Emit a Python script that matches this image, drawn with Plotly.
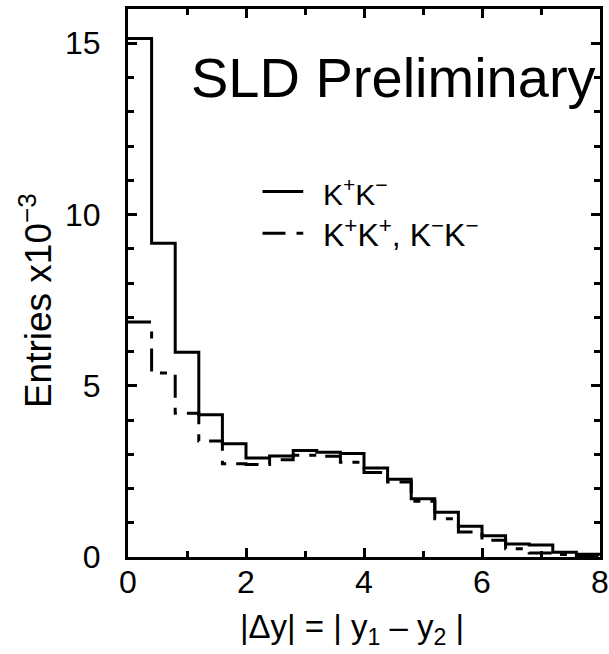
import plotly.graph_objects as go

bin_edges = [round(0.4 * i, 1) for i in range(21)]
kpkm = [15.14, 9.16, 5.98, 4.15, 3.31, 2.89, 2.95, 3.11, 3.06, 3.02,
        2.60, 2.27, 1.70, 1.31, 0.90, 0.62, 0.38, 0.35, 0.14, 0.08]
same_sign = [6.86, 5.37, 4.20, 3.39, 2.72, 2.70, 2.84, 2.97, 2.94, 2.77,
             2.47, 2.19, 1.63, 1.12, 0.73, 0.49, 0.24, 0.12, 0.07, 0.03]
x_ticks = [0, 2, 4, 6, 8]
y_ticks = [0, 5, 10, 15]

FONT = "Liberation Sans, Arial, sans-serif"
DASH = "23px,10px,7px,10px"

fig = go.Figure()
fig.add_trace(go.Scatter(x=bin_edges, y=kpkm + [kpkm[-1]], mode="lines",
                         line=dict(shape="hv", color="black", width=3),
                         showlegend=False, hoverinfo="skip"))
fig.add_trace(go.Scatter(x=bin_edges, y=same_sign + [same_sign[-1]], mode="lines",
                         line=dict(shape="hv", color="black", width=3, dash=DASH),
                         showlegend=False, hoverinfo="skip"))

# legend (manual)
fig.add_shape(type="line", xref="x", yref="y", x0=2.28, x1=2.97, y0=10.67, y1=10.67,
              line=dict(color="black", width=3))
fig.add_shape(type="line", xref="x", yref="y", x0=2.28, x1=2.97, y0=9.45, y1=9.45,
              line=dict(color="black", width=3, dash="23px,11px,7px,20px"))
fig.add_annotation(x=3.27, y=10.67, xref="x", yref="y", xanchor="left", yanchor="middle",
                   text="K<sup>+</sup>K<sup>−</sup>", showarrow=False,
                   font=dict(family=FONT, size=30, color="black"))
fig.add_annotation(x=3.27, y=9.45, xref="x", yref="y", xanchor="left", yanchor="middle",
                   text="K<sup>+</sup>K<sup>+</sup>, K<sup>−</sup>K<sup>−</sup>", showarrow=False,
                   font=dict(family=FONT, size=32, color="black"))
fig.add_annotation(x=7.97, y=14.0, xref="x", yref="y", xanchor="right", yanchor="middle",
                   text="SLD Preliminary", showarrow=False,
                   font=dict(family=FONT, size=56, color="black"))

# axis titles
fig.add_annotation(x=0.4746, y=0, xref="paper", yref="paper", xanchor="center", yanchor="middle",
                   yshift=-72, text="|Δy| = | y<sub>1</sub> – y<sub>2</sub> |", showarrow=False,
                   font=dict(family=FONT, size=33, color="black"))
fig.add_annotation(x=0, y=0.467, xref="paper", yref="paper", xanchor="center", yanchor="middle",
                   xshift=-92, textangle=-90, text="Entries x10<sup>−3</sup>", showarrow=False,
                   font=dict(family=FONT, size=37, color="black"))

axis_common = dict(showline=True, linewidth=3, linecolor="black", mirror="allticks",
                   ticks="inside", ticklen=9, tickwidth=3, tickcolor="black",
                   showgrid=False, zeroline=False, automargin=False,
                   tickfont=dict(family=FONT, size=32, color="black"))

fig.update_xaxes(range=[0, 8], tickvals=x_ticks, ticktext=[str(v) for v in x_ticks],
                 minor=dict(dtick=1, ticks="inside", ticklen=6, tickwidth=3, tickcolor="black"),
                 ticklabelstandoff=-5, ticklabeloverflow="allow",
                 **axis_common)
fig.update_yaxes(range=[0, 16], tickvals=y_ticks, ticktext=[str(v) for v in y_ticks],
                 minor=dict(dtick=1, ticks="inside", ticklen=6, tickwidth=3, tickcolor="black"),
                 ticklabelstandoff=18,
                 **axis_common)

fig.update_layout(width=609, height=654, margin=dict(l=128, r=9, t=9, b=97),
                  plot_bgcolor="white", paper_bgcolor="white",
                  font=dict(family=FONT, color="black"))
# remove the page's default 8px body margin so the figure fills the window exactly
fig.write_html("out.html", config={"displayModeBar": False},
               post_script="document.body.style.margin='0';")
